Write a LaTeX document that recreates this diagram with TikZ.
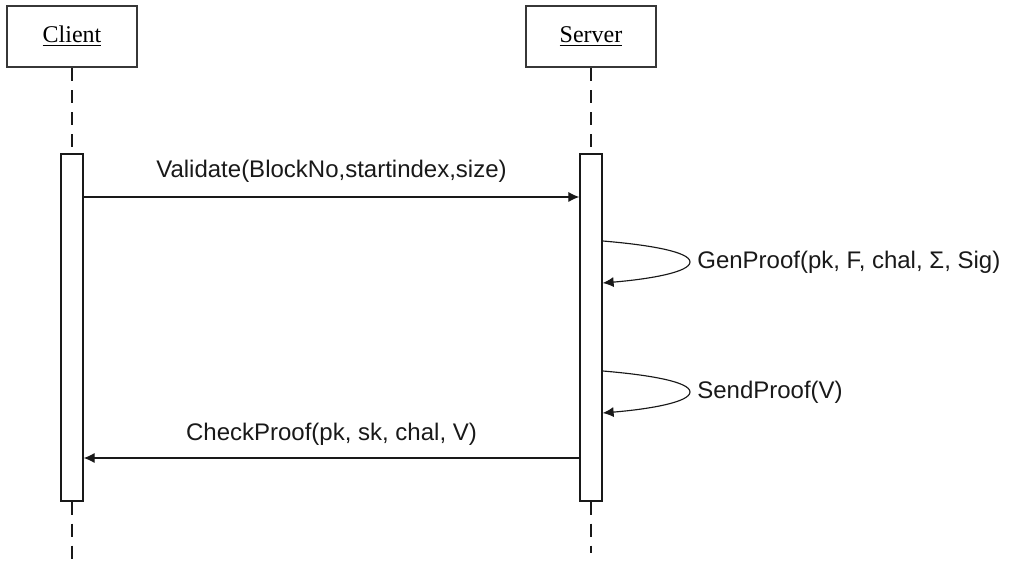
\documentclass[tikz,border=0pt]{standalone}
\usepackage{fontspec}
\setmainfont{Liberation Serif}
\setsansfont{Liberation Sans}
\usetikzlibrary{arrows.meta}
\definecolor{figline}{RGB}{25,25,25}
\definecolor{figbox}{RGB}{55,55,55}
\tikzset{
  obj/.style  ={draw=figbox, line width=1.3pt, fill=white, minimum width=2.6cm, minimum height=1.22cm, inner sep=0pt, font=\fontsize{13.66pt}{16pt}\selectfont\rmfamily},
  bar/.style  ={draw=figline, line width=0.85pt, fill=white, minimum width=0.44cm, minimum height=6.94cm, inner sep=0pt},
  life/.style ={draw=figline, line width=1.1pt, dash pattern=on 0.26cm off 0.18cm},
  lab/.style  ={font=\fontsize{13.66pt}{16pt}\selectfont\sffamily, text=figline, inner sep=1pt},
  ptr/.style  ={draw=figline, line width=0.65pt, -{Latex[length=6.2pt,width=5.8pt]}},
}
\begin{document}
\begin{tikzpicture}[x=0.02cm,y=-0.02cm]
  \useasboundingbox (0,0) rectangle (1013,563);
  \node[obj] (client) at (72,36.5) {\underline{Client}};
  \node[obj] (server) at (591,36.5) {\underline{Server}};
  \node[bar] (actC) at (72,327.5) {};
  \node[bar] (actS) at (591,327.5) {};
  \coordinate (endC) at (72,563);
  \coordinate (endS) at (591,553);
  \draw[life] (client.south) -- (actC.north);
  \draw[life] (actC.south) -- (endC);
  \draw[life] (server.south) -- (actS.north);
  \draw[life] (actS.south) -- (endS);
  \coordinate (m1) at (0,197);
  \coordinate (m2) at (0,458);
  \coordinate (s1) at (0,241);
  \coordinate (g1) at (690,262);
  \coordinate (e1) at (0,283);
  \coordinate (s2) at (0,371);
  \coordinate (g2) at (690,392);
  \coordinate (e2) at (0,413);
  \draw[ptr] (actC.east |- m1) -- node[lab,above=0.25cm] {Validate(BlockNo,startindex,size)} (actS.west |- m1);
  \draw[ptr] (actS.east |- s1) .. controls +(48,4) and +(0,-10) .. (g1) node[lab,right=0.1cm] {GenProof(pk, F, chal, Σ, Sig)}
    .. controls +(0,10) and +(48,-4) .. (actS.east |- e1);
  \draw[ptr] (actS.east |- s2) .. controls +(48,4) and +(0,-10) .. (g2) node[lab,right=0.1cm] {SendProof(V)}
    .. controls +(0,10) and +(48,-4) .. (actS.east |- e2);
  \draw[ptr] (actS.west |- m2) -- node[lab,above=0.21cm] {CheckProof(pk, sk, chal, V)} (actC.east |- m2);
\end{tikzpicture}
\end{document}
